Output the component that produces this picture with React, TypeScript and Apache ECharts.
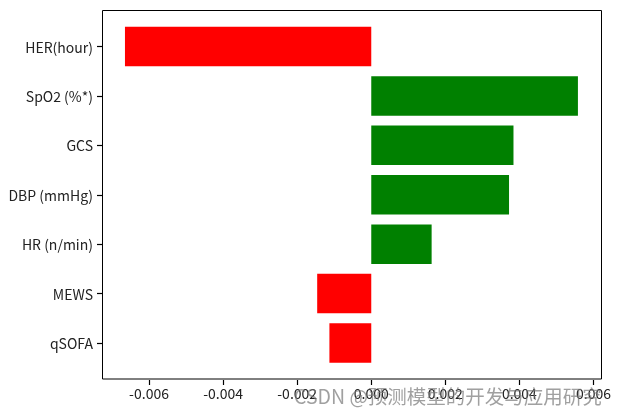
import React, { useEffect, useRef } from "react";
import * as echarts from "echarts";

const categories = ["HER(hour)", "SpO2 (%*)", "GCS", "DBP (mmHg)", "HR (n/min)", "MEWS", "qSOFA"];
const values = [-0.00665, 0.00558, 0.00384, 0.00372, 0.00163, -0.00146, -0.00113];
const xTicks = [-0.006, -0.004, -0.002, 0, 0.002, 0.004, 0.006];
const xTickLabels = ["-0.006", "-0.004", "-0.002", "0.000", "0.002", "0.004", "0.006"];
const watermark = "CSDN @预测模型的开发与应用研究";

export default function App() {
  const ref = useRef<HTMLDivElement>(null);
  useEffect(() => {
    const chart = echarts.init(ref.current!, null, { renderer: "svg" });
    const font = "'Noto Sans CJK SC', 'Noto Sans', sans-serif";
    chart.setOption({
      animation: false,
      grid: { left: 102, right: 16, top: 21.8, bottom: 45.3 },
      xAxis: {
        type: "value",
        min: -0.00727,
        max: 0.00623,
        offset: 12.3,
        splitLine: { show: false },
        axisLine: { show: false, onZero: false },
        axisTick: { show: true, length: 5, lineStyle: { color: "#000", width: 1.2 }, customValues: xTicks },
        axisLabel: {
          customValues: xTicks,
          margin: 6,
          color: "#222",
          fontSize: 14,
          fontFamily: font,
          formatter: (v: number) => {
            const i = xTicks.findIndex((t) => Math.abs(t - v) < 1e-9);
            return i >= 0 ? xTickLabels[i] : "";
          },
        },
      },
      yAxis: {
        type: "category",
        data: categories,
        inverse: true,
        position: "left",
        axisLine: { show: false, onZero: false },
        axisTick: { show: true, interval: 0, alignWithLabel: true, length: 5, inside: false, lineStyle: { color: "#000", width: 1.2 } },
        axisLabel: { margin: 9, color: "#222", fontSize: 14, fontFamily: font },
        splitLine: { show: false },
      },
      series: [
        {
          type: "bar",
          barWidth: "80%",
          data: values.map((v) => ({ value: v, itemStyle: { color: v < 0 ? "#ff0000" : "#008000" } })),
        },
      ],
      graphic: [
        {
          type: "rect",
          shape: { x: 102.5, y: 10.5, width: 499, height: 368.5 },
          style: { fill: "none", stroke: "#000", lineWidth: 1 },
          z: 10,
        },
        {
          type: "text",
          x: 294,
          y: 395,
          style: {
            text: watermark,
            fontSize: 19.5,
            fontFamily: font,
            fill: "rgba(120,120,120,0.7)",
            verticalAlign: "middle",
          },
          z: 20,
        },
      ],
    });
    return () => chart.dispose();
  }, []);
  return <div ref={ref} style={{ position: "fixed", left: 0, top: 0, width: 618, height: 413 }} />;
}
